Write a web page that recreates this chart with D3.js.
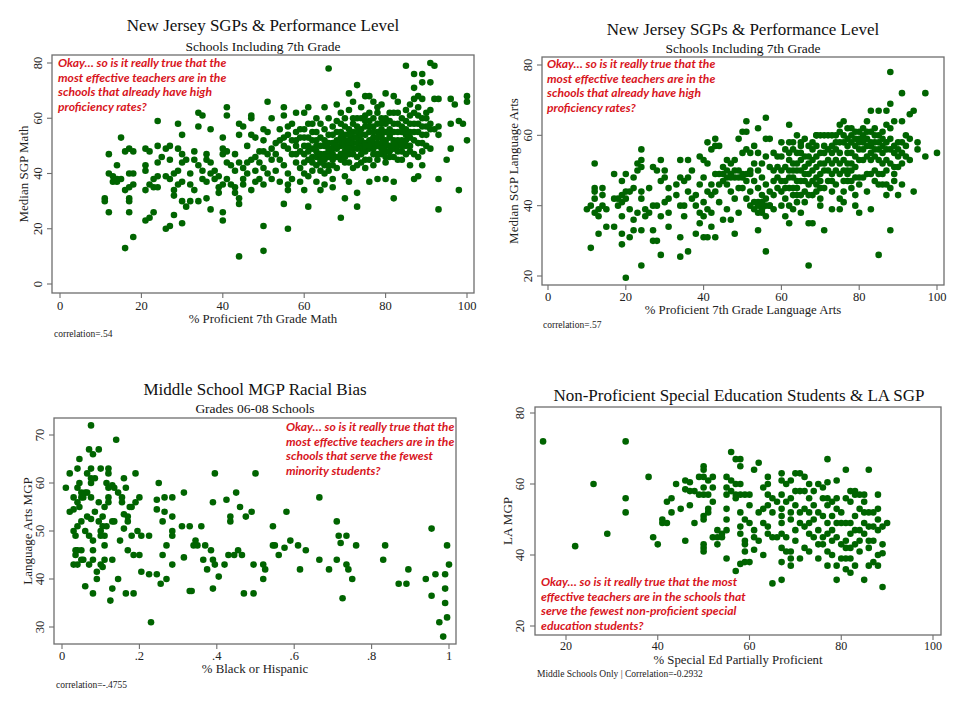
<!DOCTYPE html>
<html><head><meta charset="utf-8">
<script src="https://cdn.jsdelivr.net/npm/d3@7/dist/d3.min.js"></script>
<style>body{margin:0;background:#fff}svg{display:block}</style>
</head><body>
<svg id="c" width="960" height="720"></svg>
<script>
// ---------- DATA ----------
const mathPoints = [
[11,31],[11,30],[12,26],[12,47],[12,40],[13,39],[13,37],[14,38],[14,43],[14,37],[15,38],[15,53],[16,48],[16,34],[16,13],[17,49],[17,40],[17,31],[17,30],[17,26],[17,35],[18,48],[18,40],[18,36],[18,17],
[21,49],[21,43],[21,41],[21,34],[21,23],[22,48],[22,36],[22,24],[23,38],[23,35],[23,26],[24,59],[24,50],[24,44],[24,39],[24,35],[25,46],[26,49],[26,39],[26,20],[27,50],[27,45],[27,38],[27,21],[28,40],[28,34],[28,32],[28,25],[29,58],[29,49],[29,41],[29,36],[30,54],[30,47],[30,44],[30,37],[30,30],[30,22],[31,45],[31,28],[32,40],[32,36],[32,30],[33,48],[33,34],[33,45],[34,57],[34,62],[34,43],[34,30],[35,61],[35,41],[35,38],[36,47],[36,45],[36,37],[36,31],[37,56],[37,44],[37,40],[37,27],[38,41],[38,38],[39,39],[39,35],[39,33],[40,53],[40,47],[40,49],[40,36],[40,26],[40,23],
[41,64],[41,61],[41,48],[41,44],[41,38],[42,43],[42,36],[43,47],[43,41],[43,35],[43,33],[44,58],[44,54],[44,44],[44,31],[44,29],[44,10],[45,57],[45,42],[45,38],[45,36],[46,50],[46,44],[46,40],[47,60],[47,61],[47,54],[47,45],[47,34],[48,53],[48,46],[48,41],[48,37],[49,48],[49,44],[49,38],[50,56],[50,52],[50,48],[50,42],[50,36],[50,21],[50,12],[51,66],[51,55],[51,47],[51,40],[52,60],[52,49],[52,45],[52,38],[53,51],[53,47],[53,41],[54,56],[54,52],[54,45],[54,37],[55,64],[55,61],[55,53],[55,50],[55,43],[55,29],[56,57],[56,54],[56,49],[56,40],[56,36],[56,34],[56,20],[57,58],[57,52],[57,47],[57,38],
[58,62],[58,55],[58,50],[58,44],[58,47],[59,56],[59,48],[59,42],[59,37],[60,62],[60,53],[60,47],[60,40],[60,34],[60,50],[61,64],[61,58],[61,50],[61,45],[61,39],[61,28],[62,55],[62,49],[62,44],[62,41],[62,46],[63,60],[63,52],[63,46],[63,43],[63,37],[63,48],[63,50],[64,58],[64,50],[64,45],[64,34],[64,44],[64,47],[65,64],[65,56],[65,52],[65,47],[65,40],[65,36],[65,43],[66,78],[66,60],[66,54],[66,48],[66,43],[66,46],[66,51],[67,57],[67,51],[67,45],[67,38],[67,35],[67,49],[68,65],[68,55],[68,49],[68,42],[68,52],[69,62],[69,58],[69,52],[69,47],[69,24],[69,50],[69,55],[70,60],[70,54],[70,50],[70,44],[70,39],[70,31],[70,48],[70,52],[71,69],[71,63],[71,56],[71,52],[71,47],[71,37],[71,50],[72,66],[72,58],[72,53],[72,49],[72,42],[72,51],[72,55],[73,72],[73,60],[73,55],[73,51],[73,46],[73,33],[73,28],[73,53],[74,64],[74,56],[74,50],[74,44],[74,49],[74,52],[75,68],[75,61],[75,54],[75,48],[75,42],[75,51],[75,57],[76,68],[76,59],[76,52],[76,45],[76,37],[76,55],[76,49],[77,66],[77,57],[77,53],[77,49],[77,43],[77,51],[78,62],[78,55],[78,50],[78,38],[78,53],[78,47],[78,58],[79,65],[79,60],[79,54],[79,47],[79,51],[79,56],[80,69],[80,58],[80,52],[80,48],[80,44],[80,38],[80,55],[80,50],[81,56],[81,50],[81,46],[81,53],[81,59],[82,68],[82,62],[82,55],[82,49],[82,37],[82,31],[82,52],[83,66],[83,58],[83,52],[83,45],[83,50],[84,60],[84,55],[84,48],[84,52],[85,79],[85,63],[85,56],[85,50],[85,54],[86,65],[86,58],[86,53],[86,48],[86,43],[87,71],[87,76],[87,62],[87,55],[87,47],[87,38],[88,68],[88,64],[88,58],[88,51],[88,46],[88,39],[89,76],[89,73],[89,67],[89,60],[89,54],[89,48],[89,43],[90,62],[90,57],[90,50],[91,80],[91,73],[91,58],[91,49],[92,79],[92,67],[92,56],[93,67],[93,57],[93,54],[93,38],[93,27],[95,45],[96,67],[96,58],[96,49],[97,65],[98,59],[98,34],[99,58],[100,68],[100,66],[100,52],
[58,52],[59,53],[60,56],[60,44],[61,53],[61,48],[62,52],[62,58],[63,55],[64,53],[64,41],[65,50],[65,45],[66,49],[66,41],[67,54],[67,47],[67,43],[68,50],[68,46],[68,59],[69,45],[69,53],[70,57],[70,46],[71,54],[71,49],[71,44],[72,47],[72,60],[73,49],[73,57],[73,43],[74,54],[74,47],[74,60],[75,50],[75,45],[75,59],[76,50],[76,57],[76,62],[77,55],[77,47],[77,60],[78,51],[78,45],[78,64],[79,49],[79,53],[79,58],[80,51],[80,60],[80,46],[81,54],[81,48],[81,62],[82,58],[82,51],[82,46],[83,55],[83,48],[83,62],[84,57],[84,50],[84,45],[85,59],[85,52],[85,47],[86,61],[86,55],[86,50],[87,58],[87,52],[87,67],[88,55],[88,61],[89,57],[89,51],[90,60],[90,54],[91,56],[91,63]
];
const laPoints = [
[10,39],[11,40],[11,28],[12,52],[12,45],[12,44],[12,42],[12,38],[13,39],[13,37],[13,32],[14,45],[14,43],[14,40],[15,39],[15,34],[17,49],[17,42],[17,34],[18,42],[18,40],[19,47],[19,43],[19,41],[19,37],[19,32],[19,29],[20,49],[20,44],[20,42],[20,19.5],[21,44],[21,39],[21,31],[22,48],[22,45],[22,36],[22,33],[23,52],[23,50],[23,38],[24,56],[24,53],[24,51],[24,44],[24,42],[24,33],[24,23],[25,39],[25,37],[26,45],[26,38],[27,51],[27,40],[27,33],[27,30],[28,50],[28,40],[28,30],[29,53],[29,47],[29,37],[29,26],[30,50],[30,48],[30,41],[31,45],[31,42],[31,38],[31,34],[33,46],[33,43],[34,53],[34,48],[34,40],[34,31],[34,25.5],[35,47],[35,40],[35,37],[36,53],[36,48],[36,44],[36,27],[37,50],[37,42],[38,43],[38,40],[38,32],[39,54],[39,46],[39,38],[39,35],[40,53],[40,48],[40,41],[40,37],[40,31],
[41,58],[41,52],[41,44],[41,39],[41,31],[42,56],[42,46],[42,43],[42,38],[42,34],[43,59],[43,57],[43,49],[43,44],[43,31],[44,57],[44,46],[44,41],[45,51],[45,47],[45,36],[46,50],[46,46],[46,39],[47,49],[47,44],[47,36],[48,53],[48,48],[48,42],[48,32],[49,59],[49,50],[49,45],[49,38],[50,61],[50,55],[50,48],[51,64],[51,61],[51,56],[51,47],[52,55],[52,49],[52,44],[53,57],[53,52],[53,47],[53,39],[54,62],[54,55],[54,50],[54,45],[54,41],[54,33],[55,52],[55,48],[55,43],[55,40],[55,38],[56,65],[56,59],[56,54],[56,46],[56,42],[56,37],[56,27],[57,59],[57,51],[57,44],[57,40],[58,55],[58,50],[58,43],[58,39],[59,54],[59,48],[59,45],[60,58],[60,54],[60,50],[60,44],[60,40],
[61,56],[61,47],[61,42],[61,37],[62,63],[62,53],[62,50],[62,45],[62,40],[62,35],[63,56],[63,52],[63,48],[63,43],[63,39],[64,60],[64,55],[64,50],[64,45],[64,41],[65,57],[65,53],[65,47],[65,43],[65,38],[66,59],[66,54],[66,49],[66,44],[67,57],[67,52],[67,46],[67,35],[67,23],[68,56],[68,50],[68,43],[68,35],[69,60],[69,54],[69,48],[69,44],[70,60],[70,55],[70,49],[70,45],[70,40],[71,57],[71,52],[71,33],[72,60],[72,47],[73,57],[73,52],[73,44],[73,39],[74,58],[74,50],[74,46],[75,63],[75,55],[75,49],[75,42],[75,39],[76,64],[76,60],[76,53],[76,47],[76,41],[77,62],[77,57],[77,52],[77,47],[78,60],[78,55],[78,50],[78,45],[79,59],[79,54],[79,48],[79,43],[79,40],[80,61],[80,56],[80,46],[80,38],
[81,62],[81,58],[81,53],[81,48],[82,64],[82,59],[82,54],[82,44],[83,67],[83,61],[83,57],[83,49],[83,39],[84,62],[84,58],[84,54],[84,47],[85,67],[85,60],[85,56],[85,46],[85,26],[86,61],[86,57],[86,52],[86,46],[87,67],[87,63],[87,58],[87,50],[87,43],[88,78],[88,69],[88,62],[88,56],[88,45],[88,33],[89,64],[89,57],[89,51],[89,49],[90,58],[90,54],[90,43],[91,72],[91,64],[91,55],[91,52],[91,46],[92,60],[92,57],[93,66],[93,59],[93,53],[94,67],[94,44],[95,58],[95,56],[97,72],[97,54],[100,55],
[45,49],[46,48],[47,48],[48,50],[49,48],[50,49],[51,49],[52,50],[46,53],[47,52],[44,49],[50,45],[51,42],[52,40],[53,41],[54,40],[55,41],[56,40],[57,40],[55,39],[54,38],
[58,47],[59,51],[60,47],[61,51],[61,45],[62,48],[62,55],[63,50],[63,45],[64,52],[64,47],[64,43],[65,50],[65,55],[66,47],[66,51],[66,41],[67,49],[67,54],[67,43],[68,47],[68,53],[68,58],[69,51],[69,46],[69,57],[70,52],[70,47],[70,42],[71,55],[71,50],[71,45],[72,53],[72,50],[72,56],[73,55],[73,49],[73,47],[74,53],[74,56],[74,60],[75,52],[75,58],[75,61],[76,58],[76,50],[76,44],[77,59],[77,55],[77,50],[77,49],[78,58],[78,52],[78,47],[78,62],[79,61],[79,57],[79,51],[80,59],[80,58],[80,53],[80,48],[81,60],[81,56],[81,59],[82,57],[82,61],[82,49],[83,58],[83,55],[83,53],[84,60],[84,56],[84,50],[85,58],[85,53],[85,49],[86,59],[86,55],[86,49],[87,56],[87,53],[87,46],[88,59],[88,52],[89,55],[89,47],[90,56],[90,51],[91,58],[92,54],[69,60],[71,60],[73,60],[62,58],[63,58],[65,58]
];
const racePoints = [
[0.01,59],[0.02,62],[0.02,54],[0.03,54.5],[0.03,50],[0.03,57],[0.03,43],[0.035,49],[0.035,46],[0.035,45],[0.04,63],[0.04,59],[0.04,56],[0.04,51],[0.04,46],[0.04,43],[0.045,65],[0.045,60],[0.045,55],[0.05,58],[0.05,57],[0.05,52],[0.05,46],[0.05,44],[0.055,57],[0.055,44],[0.06,58],[0.06,50],[0.06,38.5],[0.065,62],[0.065,58],[0.065,53],[0.07,67],[0.07,49],[0.07,43],[0.075,72],[0.075,63],[0.075,61],[0.075,60],[0.075,57],[0.075,52.5],[0.08,66],[0.08,46],[0.08,44],[0.08,48],[0.08,37],[0.085,61],[0.085,54],[0.09,41.5],[0.09,40],[0.095,67],[0.095,56],[0.095,52],[0.1,63],[0.1,50],[0.1,49],[0.1,43],[0.105,53],[0.105,51],[0.105,42.5],[0.11,55],[0.11,49],[0.11,47],[0.11,44],[0.115,60],[0.115,51],[0.12,63],[0.12,62],[0.12,59],[0.12,57],[0.12,56],[0.125,35.5],[0.13,59.5],[0.13,52],[0.13,44],[0.13,38],[0.135,59],[0.135,52],[0.14,69],[0.145,58],[0.145,40],[0.15,48],[0.155,57],[0.155,56],[0.16,61],[0.16,53.5],[0.16,50.5],[0.165,59],[0.165,37],[0.17,53],[0.17,52],[0.17,46],[0.175,55],[0.18,55],[0.18,49],[0.185,45],[0.185,37],[0.19,62],[0.19,56],[0.195,50],[0.2,57],[0.2,45],[0.205,49],[0.205,41.5],
[0.225,41],[0.225,49],[0.23,31],[0.245,41],[0.245,56.5],[0.245,54.5],[0.25,60],[0.255,39],[0.26,52],[0.26,45],[0.265,57],[0.265,54],[0.27,47],[0.27,40],[0.285,57],[0.285,53],[0.285,50],[0.285,49],[0.285,43],[0.31,51],[0.315,58],[0.315,44.5],[0.33,51],[0.33,37.5],[0.335,37.5],[0.34,47],[0.345,48],[0.35,47],[0.36,51],[0.365,44],[0.37,47],[0.375,42],[0.385,46],[0.39,56],[0.39,44],[0.39,38],[0.395,62],[0.395,43],[0.405,40.5],[0.42,43],[0.425,56.5],[0.43,45],[0.435,53],[0.435,52],[0.445,45],[0.45,58],[0.455,46],[0.46,55],[0.465,45],[0.47,37],[0.475,53],[0.49,54],[0.495,43],[0.495,37],[0.5,62],
[0.52,40],[0.52,43],[0.525,42],[0.545,51],[0.545,47],[0.55,47],[0.56,45],[0.575,46.5],[0.58,54],[0.59,48],[0.61,47],[0.615,42],[0.63,46],[0.665,57],[0.665,44],[0.69,42],[0.71,52],[0.71,44],[0.715,49],[0.72,47.5],[0.725,36],[0.735,49],[0.735,43],[0.74,42],[0.75,40],[0.76,47],[0.83,44],[0.835,47],[0.87,39],[0.89,39],[0.895,42],[0.94,40],[0.955,50.5],[0.955,36.5],[0.965,41],[0.975,31],[0.985,28],[0.99,41],[0.99,38],[0.99,35],[0.995,47],[0.995,32],[1.0,43]
];
const spedPoints = [
[15,72],[22,42.5],[26,60],[29,46],[33,72],[33,56],[33,52],[38,62],[39,45],[40,43],[41,50],[41,49],[42,49],[42,55],[43,56],[43,52],[44,60],[45,53],[46,61],[46,58.5],[46,44],[47,60.5],[47,54],[47,58],[48,58],[48,49],[49,62],[49,57],[50,65],[50,64],[50,62],[50,59],[50,57],[50,51],[50,50],[50,43],[50,42],[50,41],[51,61],[51,57],[51,53],[51,52],[52,62],[52,59],[52,55],[52,45],[53,47],[53,45],[53,43],[54,45],[54,46],[55,62],[55,59],[55,57],[55,53],[55,50],[55,47],[55,39],[56,69],[56,61],[56,58],[57,67],[57,60],[57,57],[57,56],[57,35.5],[58,67],[58,65],[58,60],[58,57],[58,52],[58,48],[58,46],[58,37.5],[59,57],[59,50],[59,44],[59,43],[59,41],[59,38],[60,57],[60,54],[60,49],[60,38],
[61,64],[61,47],[61,45],[61,41.5],[62,66],[62,52],[62,44],[63,59],[63,53],[63,49],[63,40],[64,62],[64,60],[64,57],[64,54],[64,48],[64,46],[65,56],[65,52],[65,45],[65,32],[66,55],[66,45],[67,63],[67,61],[67,57],[67,53],[67,51],[67,49],[67,46],[67,42],[67,38],[67,33],[68,60],[68,55],[68,45],[68,41],[69,61],[69,56],[69,52],[69,50],[69,41],[69,39],[69,37],[70,63],[70,58],[70,54],[70,47],[70,44],[71,63],[71,58],[71,52],[71,49],[71,39],[72,62],[72,58],[72,53],[72,48],[72,42],[73,60],[73,56],[73,52],[73,49],[73,46],[73,41],[74,58],[74,54],[74,50],[74,45],[75,60],[75,52],[75,47],[75,43],[75,39],
[76,59],[76,56],[76,51],[76,45],[76,43],[77,67],[77,60.5],[77,56],[77,54],[77,49],[77,46],[77,41],[77,37],[78,55],[78,51],[78,47],[78,44],[78,40],[79,61],[79,56],[79,53],[79,49],[79,45],[79,37],[79,33],[80,52],[80,49],[80,43],[80,39],[81,64],[81,56],[81,49],[81,44],[81,42],[81,39],[81,36],[82,58],[82,55],[82,49],[82,46],[82,42],[82,39],[82,35],[83,58],[83,57],[83,51],[83,47],[83,43],[83,37],[84,57],[84,53],[84,47],[84,44],[84,41],[85,57],[85,55],[85,52],[85,49],[85,46],[85,33],[86,64],[86,52],[86,48],[86,44],[86,42],[86,37],[87,52],[87,48],[87,44],[87,38],[88,57],[88,53],[88,50],[88,47],[88,40],[88,37],[89,48],[89,43],[89,40.5],[89,31],[90,49]
];
const mathXTicks = [0,20,40,60,80,100], mathYTicks = [0,20,40,60,80];
const laXTicks = [0,20,40,60,80,100], laYTicks = [20,40,60,80];
const raceXTicks = [0,0.2,0.4,0.6,0.8,1], raceXLabels = ["0",".2",".4",".6",".8","1"], raceYTicks = [30,40,50,60,70];
const spedXTicks = [20,40,60,80,100], spedYTicks = [20,40,60,80];
const noteHigh = ["Okay\u2026 so is it really true that the","most effective teachers are in the","schools that already have high","proficiency rates?"];
const noteMinority = ["Okay\u2026 so is it really true that the","most effective teachers are in the","schools that serve the fewest","minority students?"];
const noteSped = ["Okay\u2026 so is it really true that the most","effective teachers are in the schools that","serve the fewest non-proficient special","education students?"];

// ---------- DRAW ----------
const svg = d3.select("#c");
const SERIF = "'Liberation Serif','Times New Roman',serif";
const GREEN = "#006400", RED = "#d8141c", AX = "#6e6e6e", TXT = "#222";

function panel(o){
  const g = svg.append("g");
  const x = d3.scaleLinear().domain(o.xd).range(o.xr);
  const y = d3.scaleLinear().domain(o.yd).range(o.yr);
  const f = o.frame;
  g.append("rect").attr("x",f.l).attr("y",f.t).attr("width",f.r-f.l).attr("height",f.b-f.t)
    .attr("fill","none").attr("stroke",AX).attr("stroke-width",1.3);
  g.append("g").selectAll("line").data(o.xt).join("line").attr("x1",d=>x(d)).attr("x2",d=>x(d))
    .attr("y1",f.b).attr("y2",f.b+5).attr("stroke",AX).attr("stroke-width",1.1);
  g.append("g").selectAll("text").data(o.xt).join("text").attr("x",d=>x(d)).attr("y",o.xlY)
    .attr("text-anchor","middle").attr("font-family",SERIF).attr("font-size",o.xlFs||12.5).attr("fill",TXT)
    .text((d,i)=>o.xlab?o.xlab[i]:d);
  g.append("g").selectAll("line").data(o.yt).join("line").attr("y1",d=>y(d)).attr("y2",d=>y(d))
    .attr("x1",f.l).attr("x2",f.l-5).attr("stroke",AX).attr("stroke-width",1.1);
  g.append("g").selectAll("text").data(o.yt).join("text")
    .attr("transform",d=>`translate(${o.ylX},${y(d)}) rotate(-90)`)
    .attr("text-anchor","middle").attr("font-family",SERIF).attr("font-size",12.5).attr("fill",TXT)
    .text(d=>d);
  g.append("text").attr("x",o.tx).attr("y",o.tY).attr("text-anchor","middle")
    .attr("font-family",SERIF).attr("font-size",17).attr("fill","#111").text(o.title);
  if(o.sub) g.append("text").attr("x",o.tx).attr("y",o.sY).attr("text-anchor","middle")
    .attr("font-family",SERIF).attr("font-size",13.5).attr("fill","#111").text(o.sub);
  g.append("text").attr("x",(f.l+f.r)/2).attr("y",o.xtY).attr("text-anchor","middle")
    .attr("font-family",SERIF).attr("font-size",12.8).attr("fill",TXT).text(o.xtitle);
  g.append("text").attr("transform",`translate(${o.ytX},${(f.t+f.b)/2}) rotate(-90)`).attr("text-anchor","middle")
    .attr("font-family",SERIF).attr("font-size",13).attr("fill",TXT).text(o.ytitle);
  g.append("text").attr("x",o.nX).attr("y",o.nY).attr("font-family",SERIF).attr("font-size",9.5)
    .attr("fill",TXT).text(o.note);
  g.append("g").selectAll("circle").data(o.data).join("circle")
    .attr("cx",d=>x(d[0])).attr("cy",d=>y(d[1])).attr("r",3.3).attr("fill",GREEN);
  g.append("g").selectAll("text").data(o.ann).join("text")
    .attr("x",o.aX).attr("y",(d,i)=>o.aY+i*14.6)
    .attr("font-family","Lato,'Open Sans',sans-serif").attr("font-weight","bold").attr("font-style","italic")
    .attr("font-size",12.1).attr("fill",RED).text(d=>d);
}

panel({data:mathPoints, xd:[0,100], xr:[60,467], yd:[0,80], yr:[284,63], frame:{l:52,r:474,t:55,b:293},
  xt:mathXTicks, yt:mathYTicks, xlY:310, ylX:42, tx:263, tY:31, sY:51,
  title:"New Jersey SGPs & Performance Level", sub:"Schools Including 7th Grade",
  xtitle:"% Proficient 7th Grade Math", xtY:323, ytitle:"Median SGP Math", ytX:28,
  note:"correlation=.54", nX:54, nY:337, ann:noteHigh, aX:58, aY:67});

panel({data:laPoints, xd:[0,100], xr:[548,937], yd:[20,80], yr:[276,65], frame:{l:542,r:944,t:57,b:285},
  xt:laXTicks, yt:laYTicks, xlY:301, ylX:532, tx:743, tY:35, sY:53,
  title:"New Jersey SGPs & Performance Level", sub:"Schools Including 7th Grade",
  xtitle:"% Proficient 7th Grade Language Arts", xtY:314, ytitle:"Median SGP Language Arts", ytX:518,
  note:"correlation=.57", nX:543, nY:328, ann:noteHigh, aX:547, aY:68});

panel({data:racePoints, xd:[0,1], xr:[62,449], yd:[30,70], yr:[627,435], frame:{l:54,r:456,t:418,b:644},
  xt:raceXTicks, xlab:raceXLabels, yt:raceYTicks, xlY:660, ylX:44, tx:255, tY:395, sY:413,
  title:"Middle School MGP Racial Bias", sub:"Grades 06-08 Schools",
  xtitle:"% Black or Hispanic", xtY:673, ytitle:"Language Arts MGP", ytX:32,
  note:"correlation=-.4755", nX:56, nY:688, ann:noteMinority, aX:286, aY:431});

panel({data:spedPoints, xd:[20,100], xr:[566,933], yd:[20,80], yr:[626,413], frame:{l:535,r:941,t:407,b:635},
  xt:spedXTicks, yt:spedYTicks, xlY:650, xlFs:12, ylX:524, tx:739, tY:401, sY:null,
  title:"Non-Proficient Special Education Students & LA SGP", sub:null,
  xtitle:"% Special Ed Partially Proficient", xtY:664, ytitle:"LA MGP", ytX:512,
  note:"Middle Schools Only | Correlation=-0.2932", nX:537, nY:677, ann:noteSped, aX:541, aY:586});
</script>
</body></html>
